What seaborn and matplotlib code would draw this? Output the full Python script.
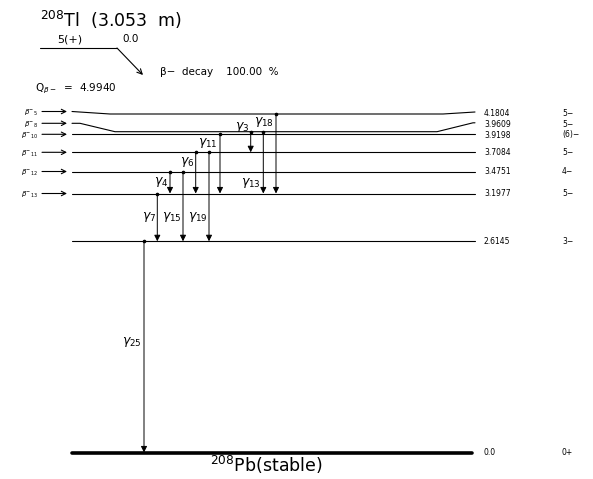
import numpy as np
import pandas as pd
import seaborn as sns
import matplotlib
matplotlib.use("Agg")
import matplotlib.pyplot as plt

# ---------------- data ----------------
level_energy = ["4.1804", "3.9609", "3.9198", "3.7084", "3.4751", "3.1977", "2.6145", "0.0"]
level_spin = ["5\u2212", "5\u2212", "(6)\u2212", "5\u2212", "4\u2212", "5\u2212", "3\u2212", "0+"]
feed_index = ["5", "8", "10", "11", "12", "13"]
gamma_names = ["3", "18", "13", "11", "6", "4", "7", "15", "19", "25"]
gamma_from = [1, 0, 1, 2, 3, 4, 5, 4, 3, 6]   # index into levels
gamma_to = [3, 5, 5, 5, 5, 5, 6, 6, 6, 7]
parent_text = r"$^{208}$Tl  (3.053  m)"
parent_spin, parent_energy = "5(+)", "0.0"
decay_text = "\u03b2\u2212  decay    100.00  %"
q_text = r"Q$_{\beta-}$  =  4.9940"
daughter_text = r"$^{208}$Pb(stable)"

# ---------------- layout (pixel coordinates) ----------------
W, H = 593, 479
level_y = [114, 131.7, 134.3, 152.3, 171.5, 193.5, 241.3, 452.5]
label_y = [113.5, 124, 135, 152.5, 171.5, 193.5, 241.5, 452.5]
feed_y = [111.5, 123.3, 134.3, 152.3, 171.5, 193.5]
gamma_x = [250.7, 276, 263.3, 220, 195.7, 170, 157.3, 183, 209, 144]
glabel_x = [249, 274, 261, 218, 194, 168.5, 156, 181.5, 207.5, 142]
glabel_y = [127, 122, 183, 143, 162, 182, 217, 217, 217, 342]

sns.set_theme(style="white")
plt.rcParams["font.family"] = ["DejaVu Sans"]
plt.rcParams["text.color"] = "black"

fig = plt.figure(figsize=(W / 100, H / 100), dpi=100)
ax = fig.add_axes([0, 0, 1, 1])

# level lines (with bends for the two top levels)
rows = []
shapes = {
    0: [(72, 111.5), (110, 114), (443, 114), (475, 112)],
    1: [(72, 123.3), (80, 123.3), (115, level_y[1]), (437, level_y[1]), (473, 122.8), (475, 122.8)],
}
for i, e in enumerate(level_energy[:-1]):
    pts = shapes.get(i, [(72, level_y[i]), (475, level_y[i])])
    for k, (x, y) in enumerate(pts):
        rows.append({"level": e, "x": x, "y": y, "order": k})
df = pd.DataFrame(rows)
sns.lineplot(data=df, x="x", y="y", units="level", estimator=None, sort=False,
             color="black", lw=0.8, ax=ax, legend=False)
# ground state
gdf = pd.DataFrame({"x": [72, 472], "y": [level_y[-1]] * 2})
sns.lineplot(data=gdf, x="x", y="y", color="black", lw=2.6, ax=ax, legend=False)
ax.set_xlim(0, W)
ax.set_ylim(H, 0)
ax.axis("off")

# energy and spin labels
for i, (e, s) in enumerate(zip(level_energy, level_spin)):
    ax.text(484, label_y[i], e, fontsize=5.5, va="center", ha="left", color="black")
    ax.text(562, label_y[i], s, fontsize=5.5, va="center", ha="left", color="black")

# beta feeding arrows
for j, idx in enumerate(feed_index):
    y = feed_y[j]
    ax.annotate("", xy=(67, y), xytext=(42, y),
                arrowprops=dict(arrowstyle="->", lw=0.8, color="black",
                                shrinkA=0, shrinkB=0, mutation_scale=8))
    ax.text(38, y + 1.2, r"$\beta^{-}{}_{%s}$" % idx, fontsize=5, ha="right",
            va="center", color="black")

# gamma transitions
for g, f, t, x, lx, ly in zip(gamma_names, gamma_from, gamma_to, gamma_x, glabel_x, glabel_y):
    y0, y1 = level_y[f], level_y[t]
    ax.annotate("", xy=(x, y1), xytext=(x, y0),
                arrowprops=dict(arrowstyle="-|>", lw=0.7, color="black",
                                shrinkA=0, shrinkB=0, mutation_scale=9))
    ax.plot([x], [y0], marker="o", ms=1.6, color="black")
    ax.text(lx, ly, r"$\gamma_{%s}$" % g, fontsize=9, ha="right", va="center", color="black")

# parent header
ax.text(40, 20, parent_text, fontsize=12.5, ha="left", va="center", color="black")
ax.text(57, 39, parent_spin, fontsize=8, ha="left", va="center", color="black")
ax.text(122, 38.5, parent_energy, fontsize=7.5, ha="left", va="center", color="black")
ax.plot([40, 117], [48, 48], color="black", lw=0.8)
ax.annotate("", xy=(143, 75), xytext=(117, 48),
            arrowprops=dict(arrowstyle="->", lw=0.8, color="black",
                            shrinkA=0, shrinkB=0, mutation_scale=9))
ax.text(160, 72, decay_text, fontsize=7.5, ha="left", va="center", color="black")
ax.text(35, 89, q_text, fontsize=7.5, ha="left", va="center", color="black")

# daughter
ax.text(210, 465, daughter_text, fontsize=12.5, ha="left", va="center", color="black")

fig.savefig("out.png", dpi=100, facecolor="white")
